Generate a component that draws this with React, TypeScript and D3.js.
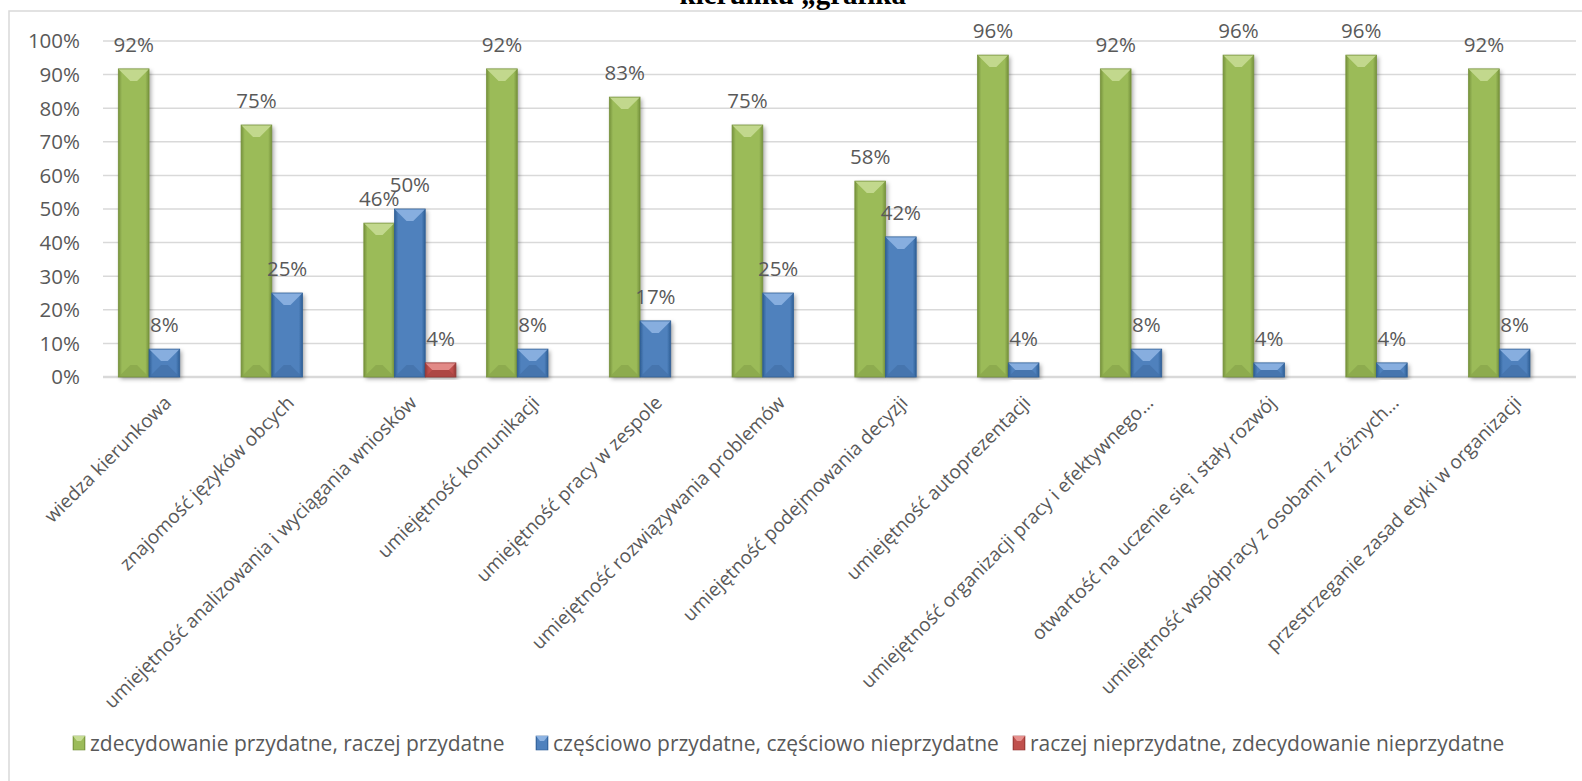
import React from "react";
import * as d3 from "d3";

const categories = [
  "wiedza kierunkowa",
  "znajomość języków obcych",
  "umiejętność analizowania i wyciągania wniosków",
  "umiejętność komunikacji",
  "umiejętność pracy w zespole",
  "umiejętność rozwiązywania problemów",
  "umiejętność podejmowania decyzji",
  "umiejętność autoprezentacji",
  "umiejętność organizacji pracy i efektywnego…",
  "otwartość na uczenie się i stały rozwój",
  "umiejętność współpracy z osobami z różnych…",
  "przestrzeganie zasad etyki w organizacji",
];

const seriesNames = [
  "zdecydowanie przydatne, raczej przydatne",
  "częściowo przydatne, częściowo nieprzydatne",
  "raczej nieprzydatne, zdecydowanie nieprzydatne",
];

const usefulValues = [91.7, 75, 45.8, 91.7, 83.3, 75, 58.3, 95.8, 91.7, 95.8, 95.8, 91.7];
const partlyValues = [8.3, 25, 50, 8.3, 16.7, 25, 41.7, 4.2, 8.3, 4.2, 4.2, 8.3];
const uselessValues = [0, 0, 4.2, 0, 0, 0, 0, 0, 0, 0, 0, 0];

const yTicks = [0, 10, 20, 30, 40, 50, 60, 70, 80, 90, 100];

const titleText = "kierunku „grafika”";

// colour sets: base, dark edge, light bevel, dark bevel
const palette = [
  { id: "g", base: "#9bbb59", edge: "#76923c", light: "#c6dc94", dark: "#8aa84c" },
  { id: "b", base: "#4f81bd", edge: "#2f5f96", light: "#8db3e2", dark: "#4472aa" },
  { id: "r", base: "#c0504d", edge: "#953735", light: "#e6908e", dark: "#a84542" },
];

const font = "'Open Sans', 'Noto Sans', sans-serif";
const textColor = "#595959";

export default function App() {
  const width = 1582;
  const height = 781;
  const plot = { left: 103, right: 1576, top: 41, bottom: 377 };

  const values = [usefulValues, partlyValues, uselessValues];

  const x = d3.scaleBand<string>()
    .domain(categories)
    .range([plot.left, plot.right])
    .paddingInner(0.25)
    .paddingOuter(0.125);

  const xs = d3.scaleBand<string>()
    .domain(seriesNames)
    .range([0, x.bandwidth()]);

  const y = d3.scaleLinear().domain([0, 100]).range([plot.bottom, plot.top]);

  const bars = categories.flatMap((c, i) =>
    seriesNames.map((s, si) => ({ c, s, si, v: values[si][i] }))
  ).filter((d) => d.v > 0);

  // where each legend text begins
  const legendStarts = [90, 553, 1030];

  return (
    <>
      <style>{"body{margin:0}"}</style>
      <svg width={width} height={height} style={{ display: "block", background: "#fff" }}>
        <defs>
          <filter id="shadow" x="-30%" y="-10%" width="160%" height="130%">
            <feDropShadow dx="2" dy="2" stdDeviation="2" floodColor="#000" floodOpacity="0.35" />
          </filter>
          {palette.map((p) => (
            <linearGradient key={p.id} id={"grad-" + p.id} x1="0" x2="1" y1="0" y2="0">
              <stop offset="0" stopColor={p.edge} />
              <stop offset="0.12" stopColor={p.base} />
              <stop offset="0.88" stopColor={p.base} />
              <stop offset="1" stopColor={p.edge} />
            </linearGradient>
          ))}
        </defs>

        {/* chart frame */}
        <path d={`M9,${height} V11 H${width}`} fill="none" stroke="#d9d9d9" strokeWidth={1.5} />

        {/* title, only its last line is in view */}
        <text
          x={800}
          y={4}
          textAnchor="middle"
          fontFamily="'Liberation Serif', 'Times New Roman', serif"
          fontWeight="bold"
          fontSize={29}
          fill="#000"
        >
          {titleText}
        </text>

        {/* gridlines */}
        {yTicks.map((t) => (
          <line
            key={t}
            x1={plot.left}
            x2={plot.right}
            y1={y(t)}
            y2={y(t)}
            stroke="#d9d9d9"
            strokeWidth={t === 0 ? 2.5 : 1.5}
          />
        ))}

        {/* y tick labels */}
        {yTicks.map((t) => (
          <text
            key={"yl" + t}
            x={80}
            y={y(t)}
            dy="0.36em"
            textAnchor="end"
            fontFamily={font}
            fontSize={20.5}
            fill={textColor}
          >
            {t + "%"}
          </text>
        ))}

        {/* bars */}
        {bars.map((d) => {
          const p = palette[d.si];
          const x0 = (x(d.c) ?? 0) + (xs(d.s) ?? 0);
          const w = xs.bandwidth();
          const top = y(d.v);
          const h = plot.bottom - top;
          const b = Math.min(12, h / 2, w / 2 - 2);
          const x1 = x0 + w;
          return (
            <g key={d.c + d.si}>
              <rect x={x0} y={top} width={w} height={h} fill={"url(#grad-" + p.id + ")"} filter="url(#shadow)" />
              <polygon
                points={`${x0},${top} ${x1},${top} ${x1 - b},${top + b} ${x0 + b},${top + b}`}
                fill={p.light}
                opacity={0.9}
              />
              <polygon
                points={`${x0},${plot.bottom} ${x1},${plot.bottom} ${x1 - b},${plot.bottom - b} ${x0 + b},${plot.bottom - b}`}
                fill={p.dark}
                opacity={0.8}
              />
              <rect x={x0} y={top} width={w} height={h} fill="none" stroke={p.edge} strokeWidth={0.8} />
            </g>
          );
        })}

        {/* data labels */}
        {bars.map((d) => (
          <text
            key={"dl" + d.c + d.si}
            x={(x(d.c) ?? 0) + (xs(d.s) ?? 0) + xs.bandwidth() / 2}
            y={y(d.v) - 17}
            textAnchor="middle"
            fontFamily={font}
            fontSize={20.5}
            fill={textColor}
          >
            {Math.round(d.v) + "%"}
          </text>
        ))}

        {/* category labels */}
        {categories.map((c) => {
          const cx = (x(c) ?? 0) + x.bandwidth() / 2;
          return (
            <text
              key={"cl" + c}
              transform={`translate(${cx + 8},${plot.bottom + 27}) rotate(-45)`}
              textAnchor="end"
              fontFamily={font}
              fontSize={19}
              fill={textColor}
            >
              {c}
            </text>
          );
        })}

        {/* legend */}
        {seriesNames.map((s, i) => {
          const p = palette[i];
          const tx = legendStarts[i];
          const mx = tx - 17;
          const ly = 743;
          return (
            <g key={"lg" + s}>
              <rect x={mx} y={ly - 7} width={12} height={14} fill={"url(#grad-" + p.id + ")"} stroke={p.edge} strokeWidth={0.6} />
              <polygon points={`${mx},${ly - 7} ${mx + 12},${ly - 7} ${mx + 8},${ly - 2} ${mx + 4},${ly - 2}`} fill={p.light} />
              <text
                x={tx}
                y={ly}
                dy="0.36em"
                fontFamily={font}
                fontSize={21}
                fill={textColor}
              >
                {s}
              </text>
            </g>
          );
        })}
      </svg>
    </>
  );
}
